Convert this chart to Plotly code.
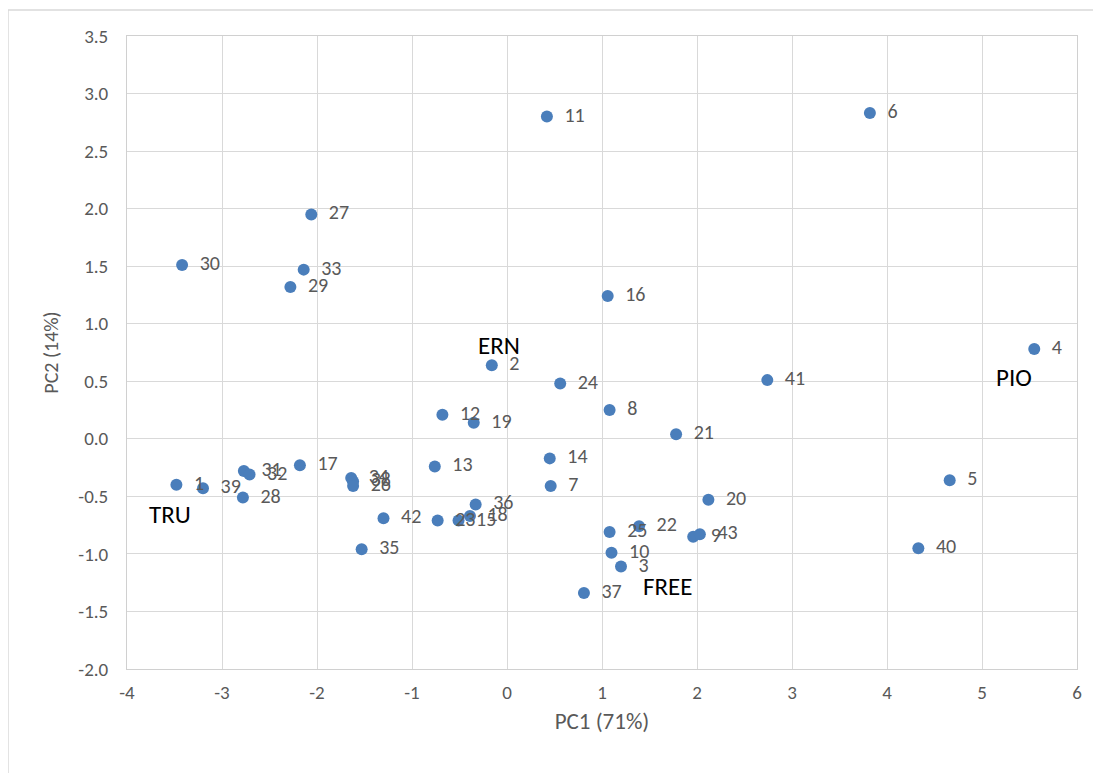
import plotly.graph_objects as go

labels = ["1", "39", "30", "27", "33", "29", "11", "6", "16", "2", "24", "41", "4",
          "8", "12", "19", "21", "14", "7", "13", "17", "31", "32", "28", "34", "38",
          "26", "42", "35", "20", "5", "40", "36", "18", "15", "23", "25", "22", "9",
          "43", "10", "3", "37"]
pc1 = [-3.48, -3.20, -3.42, -2.06, -2.14, -2.28, 0.42, 3.82, 1.06, -0.16, 0.56, 2.74, 5.55,
       1.08, -0.68, -0.35, 1.78, 0.45, 0.46, -0.76, -2.18, -2.77, -2.71, -2.78, -1.64, -1.62,
       -1.62, -1.30, -1.53, 2.12, 4.66, 4.33, -0.33, -0.39, -0.51, -0.73, 1.08, 1.39, 1.96,
       2.03, 1.10, 1.20, 0.81]
pc2 = [-0.40, -0.43, 1.51, 1.95, 1.47, 1.32, 2.80, 2.83, 1.24, 0.64, 0.48, 0.51, 0.78,
       0.25, 0.21, 0.14, 0.04, -0.17, -0.41, -0.24, -0.23, -0.28, -0.31, -0.51, -0.34, -0.37,
       -0.41, -0.69, -0.96, -0.53, -0.36, -0.95, -0.57, -0.67, -0.71, -0.71, -0.81, -0.76,
       -0.85, -0.83, -0.99, -1.11, -1.34]

groups = ["TRU", "ERN", "PIO", "FREE"]
group_x = [-3.55, -0.08, 5.34, 1.69]
group_y = [-0.66, 0.81, 0.53, -1.28]

x_tickvals = [-4, -3, -2, -1, 0, 1, 2, 3, 4, 5, 6]
x_ticktext = ["-4", "-3", "-2", "-1", "0", "1", "2", "3", "4", "5", "6"]
y_tickvals = [-2.0, -1.5, -1.0, -0.5, 0.0, 0.5, 1.0, 1.5, 2.0, 2.5, 3.0, 3.5]
y_ticktext = ["-2.0", "-1.5", "-1.0", "-0.5", "0.0", "0.5", "1.0", "1.5", "2.0", "2.5",
              "3.0", "3.5"]

font_family = "Carlito, Calibri, Lato, sans-serif"
gray = "#595959"

fig = go.Figure()
fig.add_trace(go.Scatter(
    x=pc1, y=pc2, text=labels, mode="markers+text",
    texttemplate="  %{text}", textposition="middle right",
    textfont=dict(family=font_family, size=20, color=gray),
    marker=dict(color="#4A7EBB", size=12),
    cliponaxis=False, hoverinfo="x+y+text", showlegend=False,
))

for g, gx, gy in zip(groups, group_x, group_y):
    fig.add_annotation(x=gx, y=gy, text=g, showarrow=False,
                       font=dict(family=font_family, size=25, color="black"))

fig.update_xaxes(range=[-4, 6], tickvals=x_tickvals, ticktext=x_ticktext,
                 showgrid=True, gridcolor="#D9D9D9",
                 zeroline=False, showline=True, mirror=True, linecolor="#D0D0D0",
                 tickfont=dict(family=font_family, size=19, color=gray),
                 title=dict(text="PC1 (71%)", font=dict(family=font_family, size=23, color=gray),
                            standoff=10),
                 ticks="", ticklabelstandoff=6, fixedrange=True)
fig.update_yaxes(range=[-2, 3.5], tickvals=y_tickvals, ticktext=y_ticktext,
                 showgrid=True,
                 gridcolor="#D9D9D9", zeroline=False, showline=True, mirror=True,
                 linecolor="#D0D0D0",
                 tickfont=dict(family=font_family, size=19, color=gray),
                 title=dict(text="PC2 (14%)", font=dict(family=font_family, size=20, color=gray),
                            standoff=14),
                 ticks="", ticklabelstandoff=14, fixedrange=True)

fig.add_shape(type="rect", xref="paper", yref="paper",
              x0=-0.1253, x1=1.2, y0=-0.4, y1=1.041,
              line=dict(color="#D9D9D9", width=1.5))

fig.update_layout(width=1085, height=765, margin=dict(l=119, r=16, t=28, b=104),
                  plot_bgcolor="white", paper_bgcolor="white",
                  font=dict(family=font_family, color=gray))

fig.write_html("out.html")
